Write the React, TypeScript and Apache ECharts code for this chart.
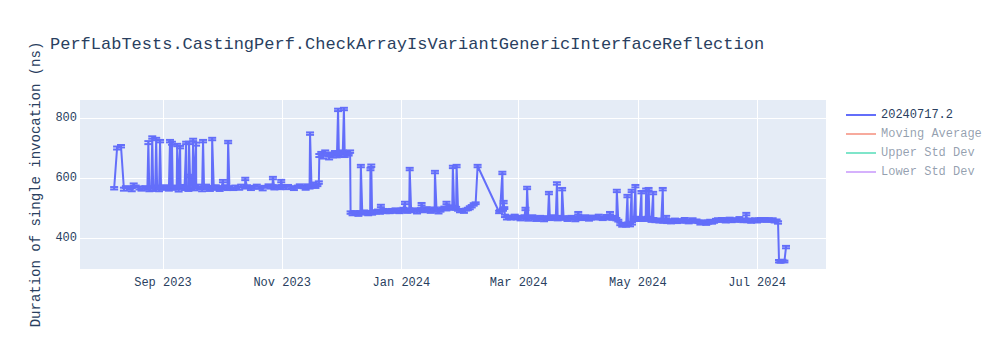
import React, { useEffect, useRef } from "react";
import * as echarts from "echarts";

const TITLE = "PerfLabTests.CastingPerf.CheckArrayIsVariantGenericInterfaceReflection";
const Y_NAME = "Duration of single invocation (ns)";
const SERIES_NAMES = ["20240717.2", "Moving Average", "Upper Std Dev", "Lower Std Dev"];
const MONTHS = ["Jan", "Feb", "Mar", "Apr", "May", "Jun", "Jul", "Aug", "Sep", "Oct", "Nov", "Dec"];
const xTickDates = ["2023-09-01", "2023-11-01", "2024-01-01", "2024-03-01", "2024-05-01", "2024-07-01"];
const yTickValues = [400, 600, 800];
const xRange = ["2023-07-20 12:30", "2024-08-05 07:00"];
const yRange = [297, 860];

const dates = [
  // Aug 2023
  "2023-08-07","2023-08-08 12:00","2023-08-10 12:00","2023-08-12","2023-08-13","2023-08-15","2023-08-16","2023-08-17","2023-08-18","2023-08-20","2023-08-21","2023-08-23","2023-08-24","2023-08-24 12:00","2023-08-25","2023-08-26","2023-08-26 12:00","2023-08-27","2023-08-28","2023-08-28 12:00","2023-08-29","2023-08-30","2023-08-30 12:00","2023-08-31",
  // Sep 2023
  "2023-09-01","2023-09-02","2023-09-03","2023-09-04","2023-09-04 14:00","2023-09-05","2023-09-05 14:00","2023-09-06","2023-09-07","2023-09-08","2023-09-08 06:00","2023-09-09","2023-09-09 18:00","2023-09-10","2023-09-11","2023-09-12","2023-09-12 20:00","2023-09-13","2023-09-14","2023-09-14 08:00","2023-09-15","2023-09-15 06:00","2023-09-16","2023-09-16 10:00","2023-09-17","2023-09-17 22:00","2023-09-18","2023-09-19","2023-09-20","2023-09-21","2023-09-21 12:00","2023-09-22","2023-09-23","2023-09-24","2023-09-25","2023-09-26","2023-09-26 04:00","2023-09-27","2023-09-28","2023-09-29","2023-09-30",
  // Oct 2023
  "2023-10-01","2023-10-01 16:00","2023-10-02","2023-10-03","2023-10-04","2023-10-04 08:00","2023-10-05","2023-10-07","2023-10-08","2023-10-10","2023-10-11","2023-10-13","2023-10-13 02:00","2023-10-14","2023-10-16","2023-10-17","2023-10-19","2023-10-20","2023-10-22","2023-10-23","2023-10-25","2023-10-26","2023-10-27","2023-10-27 06:00","2023-10-28","2023-10-30","2023-10-31","2023-10-31 12:00",
  // Nov 2023
  "2023-11-01","2023-11-03","2023-11-04","2023-11-06","2023-11-07","2023-11-09","2023-11-10","2023-11-12","2023-11-13","2023-11-14","2023-11-15","2023-11-15 06:00","2023-11-16","2023-11-17","2023-11-18","2023-11-19","2023-11-19 18:00","2023-11-20","2023-11-21","2023-11-22","2023-11-23","2023-11-24","2023-11-25","2023-11-26","2023-11-27","2023-11-28","2023-11-29","2023-11-29 14:00","2023-11-30",
  // Dec 2023
  "2023-12-01","2023-12-02","2023-12-02 14:00","2023-12-03","2023-12-04","2023-12-05","2023-12-05 18:00","2023-12-06","2023-12-07","2023-12-08","2023-12-09","2023-12-10","2023-12-11","2023-12-11 06:00","2023-12-12","2023-12-13","2023-12-14","2023-12-15","2023-12-16","2023-12-16 04:00","2023-12-16 14:00","2023-12-17","2023-12-18","2023-12-19","2023-12-20","2023-12-21","2023-12-21 12:00","2023-12-22","2023-12-23","2023-12-24","2023-12-25","2023-12-26","2023-12-27","2023-12-28","2023-12-29","2023-12-30","2023-12-31",
  // Jan 2024
  "2024-01-01","2024-01-02","2024-01-02 20:00","2024-01-03","2024-01-04","2024-01-05","2024-01-05 06:00","2024-01-06","2024-01-07","2024-01-08","2024-01-09","2024-01-10","2024-01-11","2024-01-11 08:00","2024-01-12","2024-01-13","2024-01-14","2024-01-15","2024-01-16","2024-01-17","2024-01-18","2024-01-18 04:00","2024-01-19","2024-01-20","2024-01-21","2024-01-22","2024-01-23","2024-01-24","2024-01-24 02:00","2024-01-25","2024-01-26","2024-01-27","2024-01-27 08:00","2024-01-28","2024-01-29","2024-01-29 06:00","2024-01-30","2024-01-31",
  // Feb 2024
  "2024-02-01","2024-02-02","2024-02-03","2024-02-04","2024-02-05","2024-02-06","2024-02-07","2024-02-08","2024-02-09","2024-02-20","2024-02-20 12:00","2024-02-21 16:00","2024-02-22","2024-02-22 08:00","2024-02-22 16:00","2024-02-23","2024-02-24","2024-02-25","2024-02-26","2024-02-27","2024-02-28","2024-02-29",
  // Mar 2024
  "2024-03-01","2024-03-02","2024-03-03","2024-03-04","2024-03-04 12:00","2024-03-05","2024-03-05 08:00","2024-03-06","2024-03-07","2024-03-08","2024-03-09","2024-03-10","2024-03-11","2024-03-12","2024-03-13","2024-03-14","2024-03-15","2024-03-16","2024-03-16 12:00","2024-03-17","2024-03-18","2024-03-19","2024-03-20","2024-03-20 14:00","2024-03-21","2024-03-22","2024-03-23","2024-03-23 06:00","2024-03-24","2024-03-25","2024-03-26","2024-03-27","2024-03-28","2024-03-29","2024-03-30","2024-03-31","2024-03-31 12:00",
  // Apr 2024
  "2024-04-01","2024-04-02","2024-04-03","2024-04-04","2024-04-05","2024-04-06","2024-04-07","2024-04-08","2024-04-09","2024-04-10","2024-04-11","2024-04-12","2024-04-13","2024-04-14","2024-04-15","2024-04-16","2024-04-16 18:00","2024-04-17","2024-04-18","2024-04-19","2024-04-20","2024-04-20 06:00","2024-04-21","2024-04-22","2024-04-23","2024-04-24","2024-04-25","2024-04-25 16:00","2024-04-26","2024-04-27","2024-04-27 20:00","2024-04-28","2024-04-29","2024-04-29 18:00","2024-04-30",
  // May 2024
  "2024-05-01","2024-05-02","2024-05-02 20:00","2024-05-03","2024-05-04","2024-05-05","2024-05-05 06:00","2024-05-06","2024-05-06 12:00","2024-05-07","2024-05-08","2024-05-08 20:00","2024-05-09","2024-05-10","2024-05-11","2024-05-12","2024-05-13","2024-05-13 18:00","2024-05-14","2024-05-15","2024-05-15 12:00","2024-05-16","2024-05-17","2024-05-18","2024-05-19","2024-05-20","2024-05-21","2024-05-22","2024-05-23","2024-05-24","2024-05-25","2024-05-26","2024-05-27","2024-05-28","2024-05-29","2024-05-30","2024-05-31",
  // Jun 2024
  "2024-06-01","2024-06-02","2024-06-03","2024-06-04","2024-06-05","2024-06-06","2024-06-07","2024-06-08","2024-06-09","2024-06-10","2024-06-11","2024-06-12","2024-06-13","2024-06-14","2024-06-15","2024-06-16","2024-06-17","2024-06-18","2024-06-19","2024-06-20","2024-06-21","2024-06-22","2024-06-23","2024-06-24","2024-06-25","2024-06-25 12:00","2024-06-26","2024-06-27","2024-06-28","2024-06-29","2024-06-30",
  // Jul 2024
  "2024-07-01","2024-07-02","2024-07-03","2024-07-04","2024-07-05","2024-07-06","2024-07-07","2024-07-08","2024-07-09","2024-07-10","2024-07-11","2024-07-11 18:00","2024-07-12 06:00","2024-07-13","2024-07-14","2024-07-15","2024-07-15 20:00",
];

const values = [
  // Aug 2023
  566,700,706,563,570,566,561,578,572,567,562,570,565,718,560,570,735,562,571,730,566,561,723,569,
  // Sep 2023
  564,572,567,562,723,570,716,565,572,566,710,560,703,568,573,565,717,569,561,717,566,607,572,727,563,713,568,574,566,561,723,569,575,567,562,570,730,565,572,566,561,
  // Oct 2023
  570,590,567,573,565,720,569,563,571,566,574,568,597,572,565,570,575,568,564,571,575,569,573,600,567,572,566,590,
  // Nov 2023
  573,568,574,569,565,571,576,570,566,575,568,748,573,580,571,576,585,675,683,670,688,678,667,681,674,686,672,827,684,
  // Dec 2023
  677,689,830,675,683,678,688,485,481,487,483,479,486,640,482,488,484,480,487,630,641,483,489,485,491,486,507,490,494,488,491,486,493,489,495,490,487,
  // Jan 2024
  493,497,517,491,488,494,630,490,496,492,487,493,497,513,490,495,499,493,488,494,498,620,491,486,493,498,502,496,517,500,505,498,637,503,499,640,494,490,
  // Feb 2024
  492,488,495,497,501,506,512,516,640,487,491,617,495,520,500,474,467,471,465,469,473,466,
  // Mar 2024
  470,464,468,472,497,466,567,463,469,473,467,462,468,471,465,461,467,470,550,464,468,472,466,582,463,469,465,563,470,466,462,468,471,465,461,467,483,
  // Apr 2024
  470,464,468,472,466,462,467,471,465,469,473,467,463,468,472,466,483,470,465,469,463,557,458,447,443,446,441,540,448,444,557,449,462,573,467,
  // May 2024
  462,466,553,460,464,461,560,467,563,463,458,550,462,457,461,456,460,563,455,459,470,454,458,453,457,461,455,459,454,458,462,456,452,457,461,455,459,
  // Jun 2024
  454,450,455,452,448,453,457,451,455,459,462,457,463,460,456,461,464,458,462,457,461,465,459,456,461,480,457,460,455,459,462,
  // Jul 2024
  457,461,464,458,462,459,463,458,461,456,459,452,323,321,324,322,370,
];

const errors = [
  // Aug 2023
  4,5,4,5,3,4,5,4,3,5,4,3,4,5,4,3,4,5,4,4,3,5,4,4,
  // Sep 2023
  3,4,5,4,4,3,5,4,3,4,4,5,4,3,4,5,4,3,4,4,3,4,5,4,4,5,3,4,3,5,4,4,3,4,5,4,4,3,4,5,4,
  // Oct 2023
  3,4,4,3,5,4,4,3,4,5,4,3,4,4,5,4,3,4,5,3,4,4,3,4,5,4,3,4,
  // Nov 2023
  4,5,3,4,5,4,3,4,5,4,3,4,4,5,4,3,4,5,4,5,4,3,5,4,5,4,3,4,5,
  // Dec 2023
  4,3,4,5,4,3,4,4,5,3,4,5,4,4,3,4,5,4,3,4,4,5,4,3,4,5,4,4,3,5,4,3,4,5,4,3,4,
  // Jan 2024
  5,4,4,3,4,5,4,4,3,4,5,4,3,4,4,5,4,3,4,5,4,4,3,4,5,4,3,4,4,5,4,3,4,4,5,4,3,4,
  // Feb 2024
  5,4,3,4,5,4,4,3,4,4,3,4,4,4,3,4,5,4,3,4,5,4,
  // Mar 2024
  4,5,3,4,4,4,4,5,4,3,4,5,4,3,4,5,4,3,4,4,5,4,3,4,4,5,4,4,3,4,5,4,3,4,5,4,4,
  // Apr 2024
  3,4,5,4,3,4,5,4,3,4,5,4,3,4,5,4,4,3,4,5,4,4,3,4,5,4,3,4,4,5,4,4,3,4,4,
  // May 2024
  5,4,4,3,4,4,5,4,4,3,4,4,5,4,3,4,5,4,4,3,4,4,5,4,3,4,5,4,3,4,5,4,3,4,5,4,3,
  // Jun 2024
  4,5,4,3,4,5,4,3,4,5,4,3,4,5,4,3,4,5,4,3,4,5,4,3,4,4,4,5,4,3,4,
  // Jul 2024
  5,4,3,4,5,4,3,4,5,4,3,4,4,3,4,3,4,
];

const FONT = '"Courier New", "Liberation Mono", monospace';
const TEXT = "#2a3f5f";
const TEXT_FADED = "rgba(42,63,95,0.5)";
const MAIN = "#636efa";
const FADED_COLORS = ["rgba(239,85,59,0.5)", "rgba(0,204,150,0.5)", "rgba(171,99,250,0.5)"];

function toTs(s: string): number {
  const [d, t] = s.split(" ");
  const [Y, M, D] = d.split("-").map(Number);
  let h = 0, mi = 0;
  if (t) {
    const [hh, mm] = t.split(":").map(Number);
    h = hh; mi = mm;
  }
  return new Date(Y, M - 1, D, h, mi).getTime();
}

export default function App() {
  const ref = useRef<HTMLDivElement>(null);
  useEffect(() => {
    if (!ref.current) return;
    const chart = echarts.init(ref.current, undefined, { renderer: "svg" });
    const n = Math.min(dates.length, values.length, errors.length);
    const lineData: any[] = [];
    const errData: any[] = [];
    for (let i = 0; i < n; i++) {
      const t = toTs(dates[i]);
      lineData.push([t, values[i]]);
      errData.push([t, values[i] - errors[i], values[i] + errors[i]]);
    }
    const xTicks = xTickDates.map(toTs);
    const option: any = {
      animation: false,
      backgroundColor: "#fff",
      title: {
        text: TITLE,
        left: 50,
        top: 36,
        padding: 0,
        textStyle: { fontFamily: FONT, fontSize: 17, fontWeight: "normal", color: TEXT },
      },
      graphic: [
        {
          type: "text",
          x: 36,
          y: 184.5,
          rotation: Math.PI / 2,
          style: {
            text: Y_NAME,
            fontFamily: FONT,
            fontSize: 14,
            fill: TEXT,
            align: "center",
            verticalAlign: "middle",
          },
        },
      ],
      legend: {
        orient: "vertical",
        left: 846,
        top: 109,
        padding: 0,
        icon: "rect",
        itemWidth: 30,
        itemHeight: 2,
        itemGap: 7,
        textStyle: { fontFamily: FONT, fontSize: 12, color: TEXT },
        data: SERIES_NAMES.map((name, i) =>
          i === 0 ? { name } : { name, textStyle: { color: TEXT_FADED } }
        ),
        selectedMode: false,
      },
      grid: {
        left: 80,
        top: 100,
        width: 746,
        height: 169,
        show: true,
        backgroundColor: "#E5ECF6",
        borderWidth: 0,
        containLabel: false,
      },
      xAxis: {
        type: "value",
        min: toTs(xRange[0]),
        max: toTs(xRange[1]),
        axisLine: { show: false },
        axisTick: { show: false, customValues: xTicks },
        splitLine: { show: true, lineStyle: { color: "#ffffff", width: 1 } },
        axisLabel: {
          customValues: xTicks,
          margin: 8,
          fontFamily: FONT,
          fontSize: 12,
          color: TEXT,
          formatter: (v: number) => {
            const d = new Date(v);
            return MONTHS[d.getMonth()] + " " + d.getFullYear();
          },
        },
      },
      yAxis: {
        type: "value",
        min: yRange[0],
        max: yRange[1],
        axisLine: { show: false },
        axisTick: { show: false, customValues: yTickValues },
        splitLine: { show: true, lineStyle: { color: "#ffffff", width: 1 } },
        axisLabel: {
          customValues: yTickValues,
          margin: 3,
          fontFamily: FONT,
          fontSize: 12,
          color: TEXT,
        },
      },
      series: [
        {
          name: "errorbars",
          type: "custom",
          data: errData,
          encode: { x: 0, y: [1, 2] },
          z: 2,
          renderItem: (params: any, api: any) => {
            const x = api.value(0);
            const lo = api.coord([x, api.value(1)]);
            const hi = api.coord([x, api.value(2)]);
            const hw = 4;
            const style = { stroke: MAIN, lineWidth: 2, fill: "none" };
            return {
              type: "group",
              children: [
                { type: "line", shape: { x1: lo[0], y1: lo[1], x2: hi[0], y2: hi[1] }, style },
                { type: "line", shape: { x1: hi[0] - hw, y1: hi[1], x2: hi[0] + hw, y2: hi[1] }, style },
                { type: "line", shape: { x1: lo[0] - hw, y1: lo[1], x2: lo[0] + hw, y2: lo[1] }, style },
              ],
            };
          },
        },
        {
          name: SERIES_NAMES[0],
          type: "line",
          data: lineData,
          symbol: "none",
          z: 3,
          color: MAIN,
          lineStyle: { color: MAIN, width: 2 },
        },
        ...SERIES_NAMES.slice(1).map((name, i) => ({
          name,
          type: "line",
          data: [],
          symbol: "none",
          color: FADED_COLORS[i],
          lineStyle: { color: FADED_COLORS[i], width: 2 },
        })),
      ],
    };
    chart.setOption(option);
    return () => chart.dispose();
  }, []);
  return (
    <div
      ref={ref}
      style={{ position: "absolute", left: 0, top: 0, width: 1000, height: 350 }}
    />
  );
}
